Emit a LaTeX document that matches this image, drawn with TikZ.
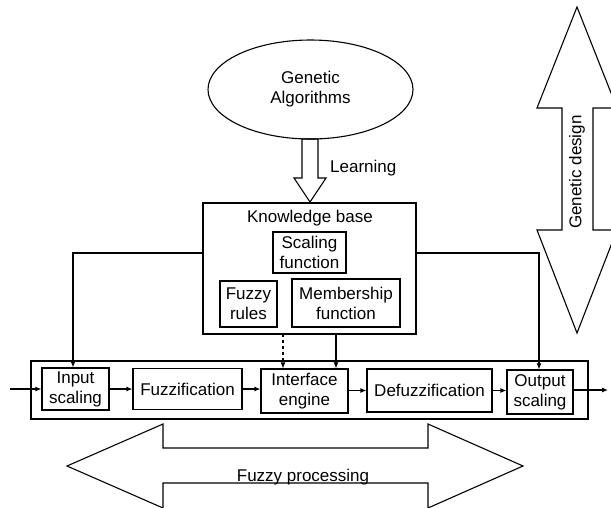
\documentclass[tikz,border=0pt]{standalone}
\usepackage{fontspec}
\setmainfont{Liberation Sans}
\usetikzlibrary{shapes.geometric,arrows.meta}
\begin{document}
\begin{tikzpicture}[x=1pt,y=-1pt,
  lw/.style={line width=1.1pt},
  box/.style={draw,lw,inner sep=0pt,align=center,font=\fontsize{17}{20}\selectfont},
  lbl/.style={inner sep=0pt,align=center,font=\fontsize{17}{20}\selectfont},
  arr/.style={lw,-{Latex[length=6pt,width=5pt]}},
  big/.style={draw,lw,line join=miter}]
\useasboundingbox (0,0) rectangle (611,507);
\clip (0,0) rectangle (611,507);
% Genetic algorithms
\node[ellipse,box,minimum width=205pt,minimum height=99pt] (ga) at (310.5,89.5) {Genetic\\Algorithms};
% hollow learning arrow
\draw[big] (302,139) -- (318,139) -- (318,178) -- (326,178) -- (310,202) -- (294,178) -- (302,178) -- cycle;
\node[lbl,anchor=west] (learn) at (330,168) {Learning};
% knowledge base
\node[box,minimum width=213pt,minimum height=131pt] (kb) at (309.5,268.5) {};
\node[lbl] (kbt) at (310,218) {Knowledge base};
\node[box,minimum width=73pt,minimum height=41pt] (sf) at (309.5,252.5) {Scaling\\function};
\node[box,minimum width=57pt,minimum height=46pt] (fr) at (248.5,304) {Fuzzy\\rules};
\node[box,minimum width=108pt,minimum height=48pt] (mf) at (346,303) {Membership\\function};
% processing row
\node[draw,lw,minimum width=557pt,minimum height=58pt,inner sep=0pt] (proc) at (309.5,390) {};
\node[box,minimum width=67pt,minimum height=42pt] (in) at (75.5,389) {Input\\scaling};
\node[box,minimum width=109pt,minimum height=41pt] (fz) at (187.5,389) {Fuzzification};
\node[box,minimum width=87pt,minimum height=44pt] (ie) at (304.5,391) {Interface\\engine};
\node[box,minimum width=125pt,minimum height=43pt] (dz) at (429.5,390.5) {Defuzzification};
\node[box,minimum width=66pt,minimum height=44pt] (out) at (540,392) {Output\\scaling};
\coordinate (src) at (10,389);
\coordinate (snk) at (608,390);
\draw[arr] (src) -- (in.west |- src);
\draw[arr] (in.east |- src) -- (fz.west |- src);
\draw[arr] (fz.east |- src) -- (ie.west |- src);
\draw[arr] (ie.east |- dz) -- (dz.west);
\draw[arr] (dz.east) -- (out.west |- dz);
\draw[arr] (out.east |- snk) -- (snk);
% feedback lines from knowledge base
\coordinate (lcol) at (73,253);
\coordinate (rcol) at (539,253);
\draw[arr] (kb.west |- lcol) -- (lcol) -- (lcol |- in.north);
\draw[arr] (kb.east |- rcol) -- (rcol) -- (rcol |- out.north);
\coordinate (d1) at (283,334);
\coordinate (d2) at (336,334);
\draw[arr,dashed] (d1) -- (d1 |- ie.north);
\draw[arr] (d2) -- (d2 |- ie.north);
% fuzzy processing double arrow
\draw[big] (67,466) -- (163,424) -- (163,448) -- (428,448) -- (428,424) -- (523,466) -- (428,508) -- (428,483) -- (163,483) -- (163,508) -- cycle;
\node[lbl,anchor=base] (fp) at (303,481) {Fuzzy processing};
% genetic design double arrow
\draw[big] (577,7) -- (617,108) -- (593,108) -- (593,230) -- (617,230) -- (577,333) -- (537,230) -- (562,230) -- (562,108) -- (537,108) -- cycle;
\node[lbl,rotate=90] (gd) at (577,172) {Genetic design};
\end{tikzpicture}
\end{document}
